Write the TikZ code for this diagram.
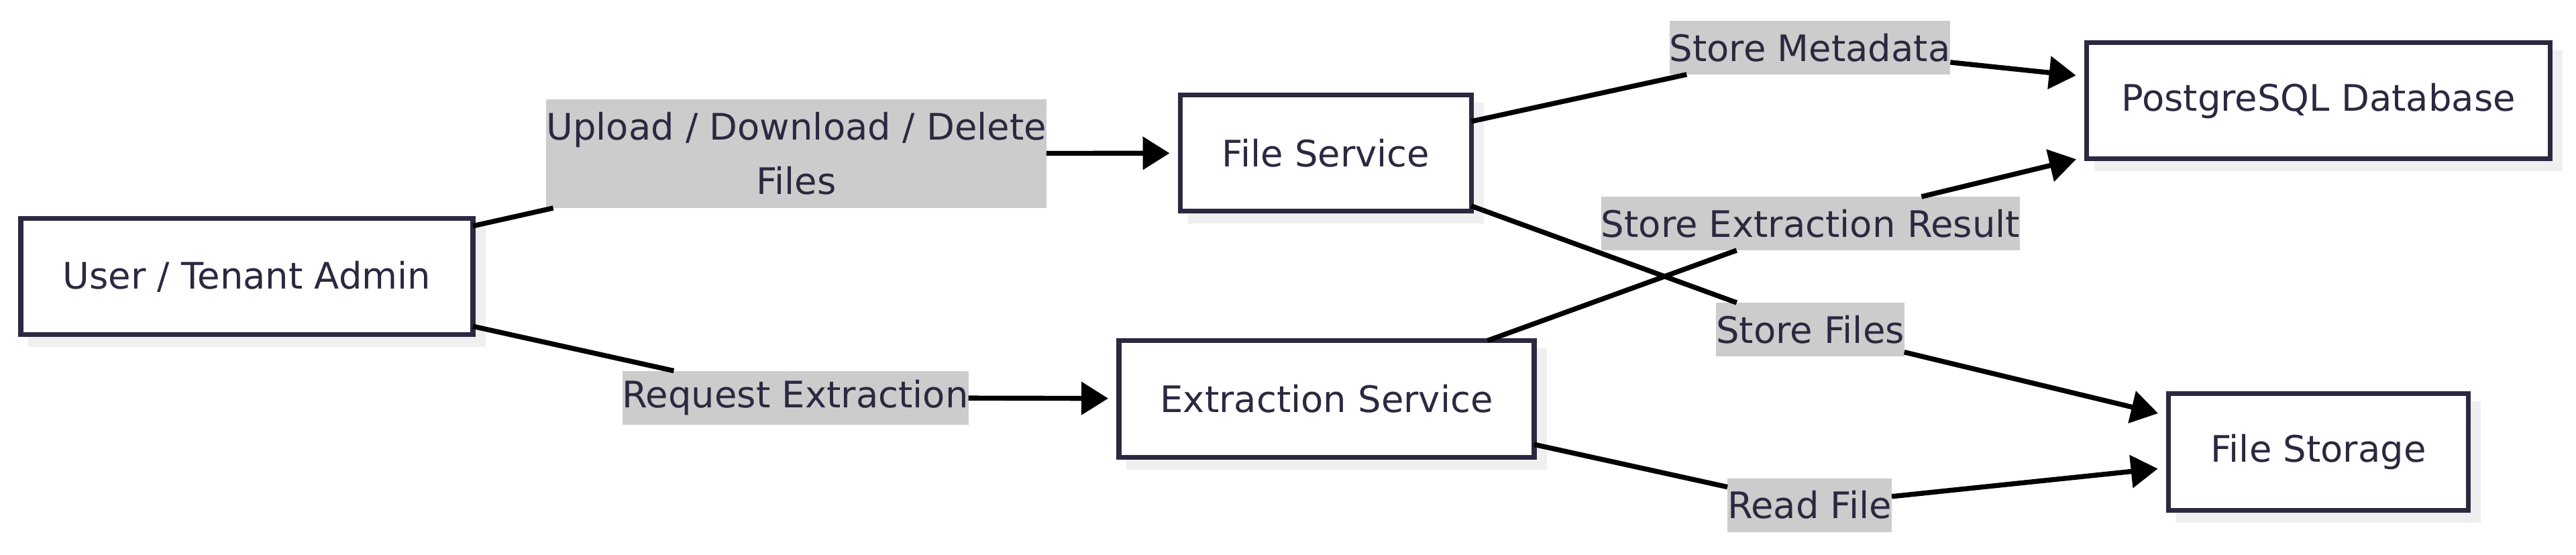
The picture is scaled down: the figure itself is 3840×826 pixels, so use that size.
\documentclass[tikz,border=0pt]{standalone}
\usepackage{fontspec}
\setmainfont{DejaVu Sans}
\usetikzlibrary{arrows.meta,shadows}
\definecolor{ink}{HTML}{2A2940}
\definecolor{lbl}{HTML}{CCCCCC}
\definecolor{shd}{HTML}{EFEFEF}
\begin{document}
\begin{tikzpicture}[x=0.25pt,y=-0.25pt,
  box/.style={draw=ink, line width=1.9pt, fill=white, inner sep=0pt, outer sep=0pt,
    text=ink, font=\fontsize{13.6pt}{20.25pt}\selectfont,
    drop shadow={shadow xshift=3.75pt, shadow yshift=-3.75pt, fill=shd, draw=shd, line width=1.9pt, opacity=1}},
  lab/.style={fill=lbl, inner xsep=0pt, inner ysep=0pt, outer sep=0pt, minimum height=20pt,
    text=ink, font=\fontsize{13.6pt}{20.25pt}\selectfont, align=center},
  edge/.style={draw=black, line width=1.85pt},
  arr/.style={edge, -{Triangle[length=10pt,width=12pt]}, shorten >=4pt}]
\useasboundingbox (0,0) rectangle (3840,826);
% nodes
\node[box, minimum width=168.5pt, minimum height=43.25pt] (user) at (368,412) {User / Tenant Admin};
\node[box, minimum width=108.5pt, minimum height=43.25pt] (fs) at (1976.5,228) {File Service};
\node[box, minimum width=154.75pt, minimum height=43.5pt] (ex) at (1977.5,594.5) {Extraction Service};
\node[box, minimum width=172.75pt, minimum height=43.25pt] (pg) at (3456,150) {PostgreSQL Database};
\node[box, minimum width=111.75pt, minimum height=43.5pt] (st) at (3456,673.5) {File Storage};
% labels
\node[lab, minimum height=40.5pt] (l1) at (1187,229) {Upload / Download / Delete\\Files};
\node[lab] (l2) at (1185.5,592.5) {Request Extraction};
\node[lab] (l3) at (2698,71) {Store Metadata};
\node[lab] (l4) at (2698.5,491) {Store Files};
\node[lab] (l5) at (2699,333) {Store Extraction Result};
\node[lab] (l6) at (2697.5,752.5) {Read File};
% edges
\draw[edge] (user) -- (l1);
\draw[arr] (l1) -- (fs);
\draw[edge] (user) -- (l2);
\draw[arr] (l2) -- (ex);
\draw[edge] (fs) -- (l3);
\draw[arr] (l3) -- (pg);
\draw[edge] (fs) -- (l4);
\draw[arr] (l4) -- (st);
\draw[edge] (ex) -- (l5);
\draw[arr] (l5) -- (pg);
\draw[edge] (ex) -- (l6);
\draw[arr] (l6) -- (st);
\end{tikzpicture}
\end{document}
